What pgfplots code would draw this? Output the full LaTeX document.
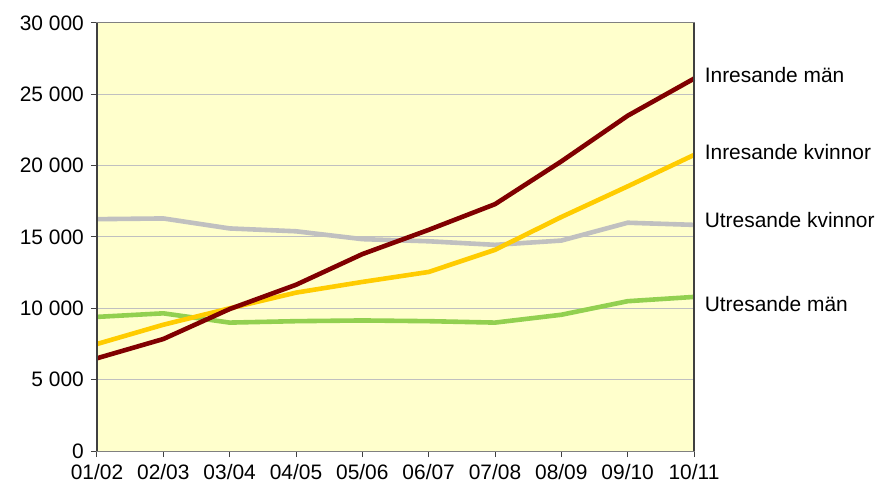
\documentclass[border=0pt]{standalone}
\usepackage{pgfplots}
\pgfplotsset{compat=1.18}
\usepackage{fontspec}
\setmainfont{Liberation Sans}
\definecolor{bgy}{HTML}{FFFFCC}
\definecolor{gridc}{HTML}{C0C0C0}
\definecolor{framec}{HTML}{808080}
\definecolor{darkax}{HTML}{404040}
\definecolor{cred}{HTML}{800000}
\definecolor{cyel}{HTML}{FFCC00}
\definecolor{cgray}{HTML}{C0C0C0}
\definecolor{cgreen}{HTML}{92D050}
\begin{document}
\fontsize{21}{25}\selectfont
\begin{tikzpicture}
\begin{axis}[
 width=597bp, height=428bp, scale only axis,
 xmin=0, xmax=9, ymin=0, ymax=30000,
 xtick={0,...,9},
 xticklabels={01/02,02/03,03/04,04/05,05/06,06/07,07/08,08/09,09/10,10/11},
 ytick={0,5000,10000,15000,20000,25000,30000},
 yticklabels={0,5 000,10 000,15 000,20 000,25 000,30 000},
 scaled y ticks=false,
 tick align=outside, tick pos=left, major tick length=6bp,
 tick style={draw=darkax, line width=1bp},
 ymajorgrids, grid style={draw=gridc, line width=1bp},
 axis background/.style={fill=bgy},
 axis line style={draw=framec, line width=1bp},
 clip=false,
 every axis plot/.append style={line width=4.6bp, line join=round, mark=none},
]
\addplot[color=cgray] coordinates {(0,16250)(1,16300)(2,15600)(3,15400)(4,14850)(5,14700)(6,14450)(7,14750)(8,16000)(9,15850)};
\addplot[color=cgreen] coordinates {(0,9400)(1,9650)(2,9000)(3,9100)(4,9150)(5,9100)(6,9000)(7,9550)(8,10500)(9,10800)};
\addplot[color=cyel] coordinates {(0,7500)(1,8850)(2,10000)(3,11100)(4,11850)(5,12550)(6,14100)(7,16400)(8,18550)(9,20750)};
\addplot[color=cred] coordinates {(0,6500)(1,7850)(2,9950)(3,11650)(4,13800)(5,15500)(6,17300)(7,20300)(8,23500)(9,26100)};
\draw[darkax, line width=2bp] (rel axis cs:0,0) -- (rel axis cs:0,1);
\draw[darkax, line width=1.5bp] (rel axis cs:1,0) -- (rel axis cs:1,1);
\node[anchor=west, inner sep=0pt] at (axis cs:9.16,26350) {Inresande män};
\node[anchor=west, inner sep=0pt] at (axis cs:9.16,20950) {Inresande kvinnor};
\node[anchor=west, inner sep=0pt] at (axis cs:9.16,16190) {Utresande kvinnor};
\node[anchor=west, inner sep=0pt] at (axis cs:9.16,10300) {Utresande män};
\coordinate (SW) at (rel axis cs:0,0);
\coordinate (NE) at (rel axis cs:1,1);
\end{axis}
\pgfresetboundingbox
\path[use as bounding box] ([shift={(-97bp,-36bp)}]SW) rectangle ([shift={(190bp,23bp)}]NE);
\end{tikzpicture}
\end{document}
